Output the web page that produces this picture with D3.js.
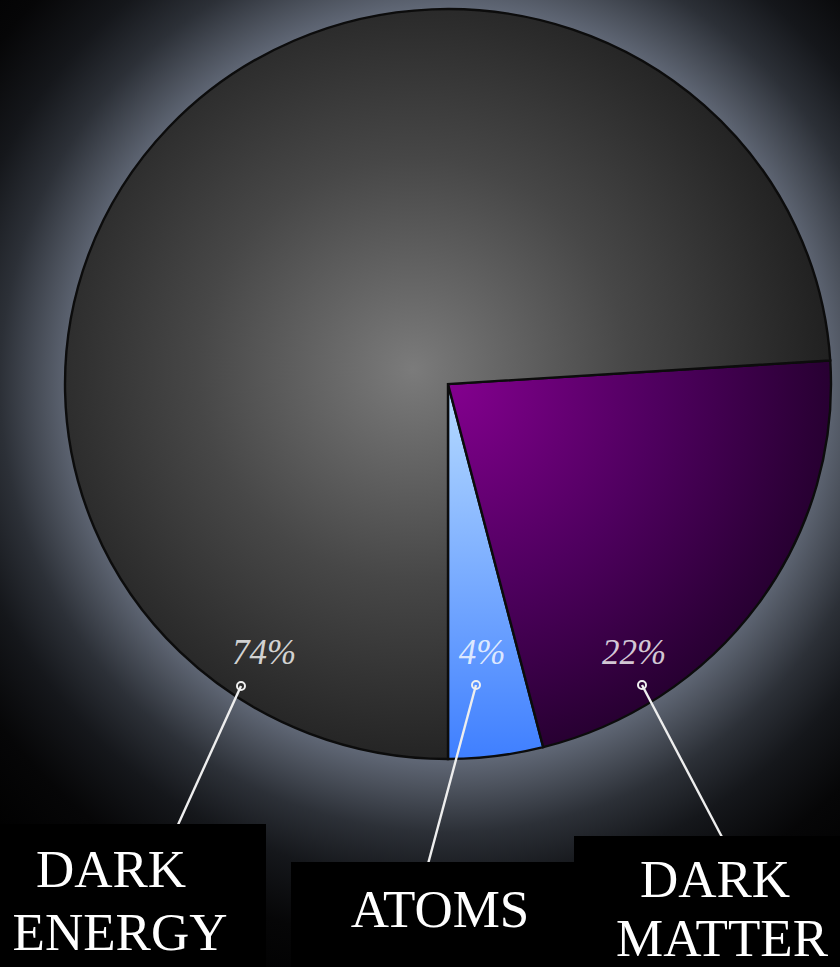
<!DOCTYPE html>
<html>
<head>
<meta charset="utf-8">
<script src="https://cdn.jsdelivr.net/npm/d3@7/dist/d3.min.js"></script>
<style>
  html, body { margin: 0; padding: 0; background: #000; }
  svg { display: block; }
</style>
</head>
<body>
<svg id="chart" width="840" height="967"></svg>
<script>
// Composition of the universe
const categories = ["ATOMS", "DARK MATTER", "DARK ENERGY"];
const shares = [4, 22, 74];
const percentLabels = ["4%", "22%", "74%"];
const nameLines = [["ATOMS"], ["DARK", "MATTER"], ["DARK", "ENERGY"]];

const W = 840, H = 967;
const cx = 448, cy = 384;
const rx = 383, ry = 375;

// Callout layout: where each label, dot and caption box sits
const callouts = {
  "ATOMS":       { label: [482, 664], dot: [476, 685], end: [428, 862],
                   box: [291, 862, 283, 105], text: [[440, 927]] },
  "DARK MATTER": { label: [634, 664], dot: [642, 685], end: [723, 837],
                   box: [574, 836, 266, 131], text: [[715, 897], [722, 956]] },
  "DARK ENERGY": { label: [264, 664], dot: [241, 686], end: [177, 825],
                   box: [0, 824, 266, 143], text: [[111, 887], [120, 950]] }
};

const svg = d3.select("#chart");
const defs = svg.append("defs");

// Halo behind the disc
const halo = defs.append("radialGradient")
  .attr("id", "halo").attr("gradientUnits", "userSpaceOnUse")
  .attr("cx", cx).attr("cy", cy).attr("r", 640);
[[0, "#7c8492"], [0.57, "#687080"], [0.63, "#4d535e"], [0.70, "#2c3037"],
 [0.78, "#15171b"], [0.88, "#060607"], [1, "#000"]]
  .forEach(([o, c]) => halo.append("stop").attr("offset", o).attr("stop-color", c));

svg.append("rect").attr("width", W).attr("height", H).attr("fill", "url(#halo)");

// Slice fills (coordinates local to the pie group)
const gEnergy = defs.append("radialGradient")
  .attr("id", "g-energy").attr("gradientUnits", "userSpaceOnUse")
  .attr("cx", -35).attr("cy", -15).attr("r", 430);
[[0, "#7b7b7b"], [0.5, "#474747"], [1, "#1e1e1e"]]
  .forEach(([o, c]) => gEnergy.append("stop").attr("offset", o).attr("stop-color", c));

const gMatter = defs.append("radialGradient")
  .attr("id", "g-matter").attr("gradientUnits", "userSpaceOnUse")
  .attr("cx", 0).attr("cy", 0).attr("r", 420);
[[0, "#84008f"], [0.5, "#4f005f"], [1, "#1f0028"]]
  .forEach(([o, c]) => gMatter.append("stop").attr("offset", o).attr("stop-color", c));

const gAtoms = defs.append("linearGradient")
  .attr("id", "g-atoms").attr("gradientUnits", "userSpaceOnUse")
  .attr("x1", 0).attr("y1", 0).attr("x2", 0).attr("y2", rx);
[[0, "#b8dcff"], [1, "#3f7fff"]]
  .forEach(([o, c]) => gAtoms.append("stop").attr("offset", o).attr("stop-color", c));

const fills = { "ATOMS": "url(#g-atoms)", "DARK MATTER": "url(#g-matter)", "DARK ENERGY": "url(#g-energy)" };

// Slices start straight down and run counter-clockwise
const pie = d3.pie().sort(null).value(d => d.value)
  .startAngle(Math.PI).endAngle(-Math.PI);
const arc = d3.arc().innerRadius(0).outerRadius(rx);

const data = categories.map((c, i) => ({ name: c, value: shares[i], label: percentLabels[i], lines: nameLines[i] }));

const pieG = svg.append("g")
  .attr("transform", `translate(${cx},${cy}) scale(1,${ry / rx})`);

pieG.selectAll("path.slice")
  .data(pie(data))
  .join("path")
  .attr("class", "slice")
  .attr("d", arc)
  .attr("fill", d => fills[d.data.name])
  .attr("stroke", "#0c0c0c")
  .attr("stroke-width", 2.4)
  .attr("stroke-linejoin", "miter");

// Percentage labels
svg.append("g").selectAll("text")
  .data(data)
  .join("text")
  .attr("x", d => callouts[d.name].label[0])
  .attr("y", d => callouts[d.name].label[1])
  .attr("text-anchor", "middle")
  .attr("font-family", "'Liberation Serif', 'DejaVu Serif', serif")
  .attr("font-style", "italic")
  .attr("font-size", 35)
  .attr("fill", "#ffffff")
  .attr("fill-opacity", 0.8)
  .text(d => d.label);

// Leader lines
svg.append("g").selectAll("line")
  .data(data)
  .join("line")
  .attr("x1", d => callouts[d.name].dot[0])
  .attr("y1", d => callouts[d.name].dot[1])
  .attr("x2", d => callouts[d.name].end[0])
  .attr("y2", d => callouts[d.name].end[1] + 2)
  .attr("stroke", "#eeeeee")
  .attr("stroke-width", 2.4);

svg.append("g").selectAll("circle")
  .data(data)
  .join("circle")
  .attr("cx", d => callouts[d.name].dot[0])
  .attr("cy", d => callouts[d.name].dot[1])
  .attr("r", 4)
  .attr("fill", "none")
  .attr("stroke", "#f0f0f0")
  .attr("stroke-width", 2);

// Caption boxes (atoms first so the dark matter box overlaps it)
const boxes = svg.append("g").selectAll("g")
  .data(data)
  .join("g");

boxes.append("rect")
  .attr("x", d => callouts[d.name].box[0])
  .attr("y", d => callouts[d.name].box[1])
  .attr("width", d => callouts[d.name].box[2])
  .attr("height", d => callouts[d.name].box[3])
  .attr("fill", "#000");

boxes.each(function (d) {
  const g = d3.select(this);
  d.lines.forEach((line, i) => {
    const [tx, ty] = callouts[d.name].text[i];
    g.append("text")
      .attr("x", tx).attr("y", ty)
      .attr("text-anchor", "middle")
      .attr("font-family", "'Liberation Serif', 'Times New Roman', serif")
      .attr("font-size", 53)
      .attr("fill", "#ffffff")
      .text(line);
  });
});
</script>
</body>
</html>
